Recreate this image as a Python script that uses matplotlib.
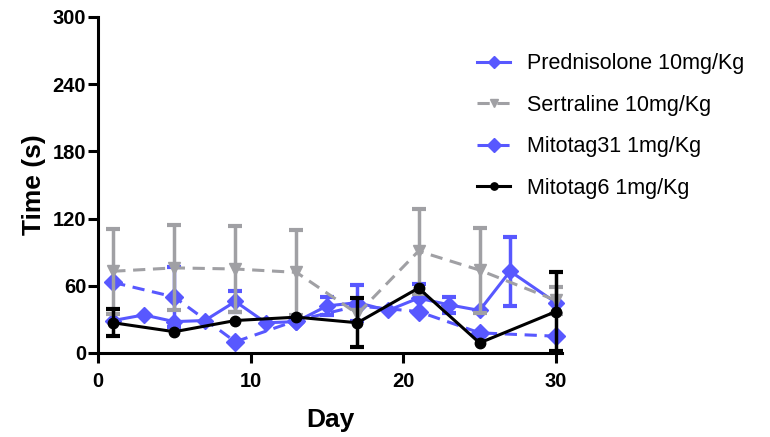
import numpy as np
import matplotlib.pyplot as plt

plt.rcParams['font.family'] = ['Liberation Sans', 'DejaVu Sans']

# Datos
pred_dias = [1, 3, 5, 7, 9, 11, 13, 15, 17, 19, 21, 23, 25, 27, 30]
pred_media = [29, 34, 28, 29, 46, 27, 28, 42, 45, 38, 49, 43, 38, 73, 45]
pred_err = [0, 0, 0, 0, 9, 0, 0, 8, 16, 0, 13, 7, 0, 31, 0]

dias = [1, 5, 9, 13, 17, 21, 25, 30]
sert_media = [73, 76, 75, 72, 35, 91, 74, 47]
sert_err = [38, 38, 38, 38, 0, 38, 38, 12]

m31_media = [63, 50, 10, 29, 42, 37, 18, 15]
m31_err = [0, 27, 0, 0, 0, 0, 0, 0]

m6_media = [27, 19, 29, 32, 27, 58, 9, 37]
m6_err = [12, 0, 0, 0, 22, 0, 0, 35]

azul = '#5858FF'
gris = '#A0A0A4'

fig = plt.figure(figsize=(7.7, 4.37), dpi=100)
ax = fig.add_axes([98 / 770, 1 - 353 / 437, 464 / 770, 336 / 437])


def serie(x, y, e, color, marker, ms, ls, label, z):
    x = np.array(x)
    y = np.array(y)
    e = np.array(e)
    m = e > 0
    if m.any():
        ax.errorbar(x[m], y[m], yerr=e[m], fmt='none', ecolor=color,
                    elinewidth=2.5, capsize=5, capthick=3, zorder=z)
    ax.plot(x, y, color=color, marker=marker, ls=ls, lw=2.2, ms=ms,
            label=label, zorder=z, clip_on=False,
            dashes=(4, 2.5) if ls == '--' else (None, None))


serie(pred_dias, pred_media, pred_err, azul, 'D', 8.5, '-', 'Prednisolone 10mg/Kg', 3)
serie(dias, sert_media, sert_err, gris, 'v', 9, '--', 'Sertraline 10mg/Kg', 4)
serie(dias, m31_media, m31_err, azul, 'D', 9.5, '--', 'Mitotag31 1mg/Kg', 2)
serie(dias, m6_media, m6_err, 'black', 'o', 7.5, '-', 'Mitotag6 1mg/Kg', 5)

ax.set_xlim(0, 30.4)
ax.set_ylim(0, 300)
ax.set_xticks([0, 10, 20, 30])
ax.set_yticks([0, 60, 120, 180, 240, 300])
for s in ['top', 'right']:
    ax.spines[s].set_visible(False)
for s in ['left', 'bottom']:
    ax.spines[s].set_linewidth(2.2)
ax.tick_params(width=2.2, length=7, labelsize=14.5)
ax.tick_params(axis='x', pad=7)
ax.tick_params(axis='y', pad=1.5)
for t in ax.get_xticklabels() + ax.get_yticklabels():
    t.set_fontweight('bold')

ax.set_xlabel('Day', fontsize=19, fontweight='bold', labelpad=12)
ax.set_ylabel('Time (s)', fontsize=19, fontweight='bold', labelpad=5)

h, l = ax.get_legend_handles_labels()
ax.legend(h, l, loc='upper left', bbox_to_anchor=(458 / 770, 1 - 34 / 437),
          bbox_transform=fig.transFigure, frameon=False, fontsize=15.5,
          handlelength=1.5, handletextpad=0.8, labelspacing=0.95,
          markerscale=0.7)

plt.savefig('out.png', dpi=100)
